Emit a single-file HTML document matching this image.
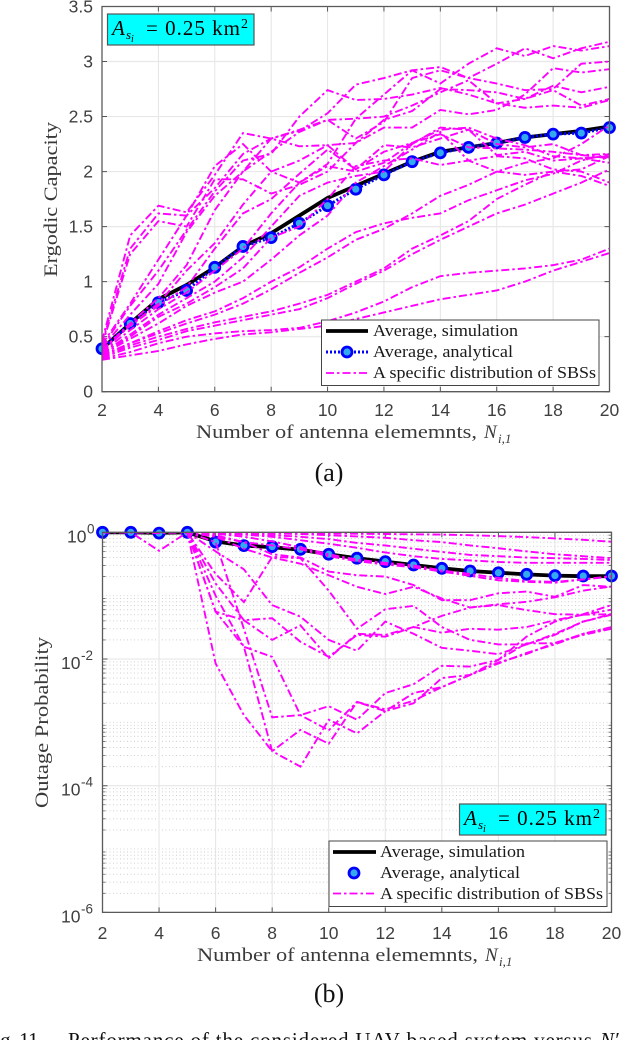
<!DOCTYPE html>
<html><head><meta charset="utf-8"><title>Ergodic capacity and outage probability</title>
<style>
html,body{margin:0;padding:0;background:#fff;width:626px;height:1040px;overflow:hidden}
svg{display:block}
text{font-family:"Liberation Serif",serif;fill:#3a3a3a}
.tick{font-family:"Liberation Sans",sans-serif;font-size:17.5px;fill:#404040}
.leg{font-size:17px;fill:#1a1a1a}
.math{fill:#000}
</style></head>
<body>
<svg id="fig" xmlns="http://www.w3.org/2000/svg" width="626" height="1040" viewBox="0 0 626 1040">
  <defs>
    <clipPath id="clipA"><rect x="102" y="6.5" width="507.5" height="385.2"/></clipPath>
    <clipPath id="clipB"><rect x="102.5" y="532.3" width="509" height="380.1"/></clipPath>
  </defs>
  <g id="chartA"></g>
  <g id="chartB"></g>

  <!-- chart a annotation -->
  <g>
    <rect x="107.5" y="14" width="146.5" height="31" fill="#00ffff" stroke="#555" stroke-width="1.2"/>
    <text class="math" x="112" y="35" font-size="21" font-style="italic">A</text>
    <text class="math" x="126" y="39" font-size="13" font-style="italic">s</text>
    <text class="math" x="131" y="42" font-size="10" font-style="italic">i</text>
    <text class="math" x="146" y="35" font-size="21" textLength="94" lengthAdjust="spacing">= 0.25 km</text>
    <text class="math" x="241" y="28" font-size="14">2</text>
  </g>
  <!-- chart a legend -->
  <g>
    <rect x="321.5" y="320" width="277.5" height="65.5" fill="#fff" stroke="#444" stroke-width="1"/>
    <line x1="326" x2="368" y1="331" y2="331" stroke="#000" stroke-width="3.8"/>
    <line x1="326" x2="368" y1="352" y2="352" stroke="#0000ff" stroke-width="3" stroke-dasharray="2 2"/>
    <circle cx="347" cy="352" r="5" fill="#33aaee" stroke="#0000ff" stroke-width="2.8"/>
    <line x1="326" x2="368" y1="373" y2="373" stroke="#ff00ff" stroke-width="1.8" stroke-dasharray="8 3 2.5 3"/>
    <text class="leg" x="373" y="336" textLength="145" lengthAdjust="spacingAndGlyphs">Average, simulation</text>
    <text class="leg" x="373" y="357" textLength="140" lengthAdjust="spacingAndGlyphs">Average, analytical</text>
    <text class="leg" x="373" y="378" textLength="223" lengthAdjust="spacingAndGlyphs">A specific distribution of SBSs</text>
  </g>
  <g>
    <text x="196" y="438" font-size="19" textLength="281" lengthAdjust="spacingAndGlyphs">Number of antenna elememnts,</text>
    <text x="484" y="438" font-size="19" font-style="italic">N</text>
    <text x="498" y="443" font-size="13" font-style="italic">i,1</text>
  </g>
  <text transform="translate(57,277) rotate(-90)" font-size="19" textLength="155" lengthAdjust="spacingAndGlyphs">Ergodic Capacity</text>
  <text x="329" y="481" font-size="26" text-anchor="middle" style="fill:#111">(a)</text>

  <!-- chart b annotation -->
  <g>
    <rect x="459.5" y="804" width="146.5" height="31" fill="#00ffff" stroke="#555" stroke-width="1.2"/>
    <text class="math" x="464" y="825" font-size="21" font-style="italic">A</text>
    <text class="math" x="478" y="829" font-size="13" font-style="italic">s</text>
    <text class="math" x="483" y="832" font-size="10" font-style="italic">i</text>
    <text class="math" x="498" y="825" font-size="21" textLength="94" lengthAdjust="spacing">= 0.25 km</text>
    <text class="math" x="593" y="818" font-size="14">2</text>
  </g>
  <!-- chart b legend -->
  <g>
    <rect x="329" y="841" width="278" height="65.5" fill="#fff" stroke="#444" stroke-width="1"/>
    <line x1="333" x2="376" y1="852" y2="852" stroke="#000" stroke-width="3.8"/>
    <circle cx="354" cy="873" r="5" fill="#33aaee" stroke="#0000ff" stroke-width="2.8"/>
    <line x1="333" x2="376" y1="893.5" y2="893.5" stroke="#ff00ff" stroke-width="1.8" stroke-dasharray="8 3 2.5 3"/>
    <text class="leg" x="380" y="857" textLength="145" lengthAdjust="spacingAndGlyphs">Average, simulation</text>
    <text class="leg" x="380" y="878" textLength="140" lengthAdjust="spacingAndGlyphs">Average, analytical</text>
    <text class="leg" x="380" y="899" textLength="223" lengthAdjust="spacingAndGlyphs">A specific distribution of SBSs</text>
  </g>
  <g>
    <text x="197" y="961" font-size="19" textLength="281" lengthAdjust="spacingAndGlyphs">Number of antenna elememnts,</text>
    <text x="485" y="961" font-size="19" font-style="italic">N</text>
    <text x="499" y="966" font-size="13" font-style="italic">i,1</text>
  </g>
  <text transform="translate(48,808) rotate(-90)" font-size="19" textLength="171" lengthAdjust="spacingAndGlyphs">Outage Probability</text>
  <text x="329" y="1002" font-size="26" text-anchor="middle" style="fill:#111">(b)</text>

  <!-- figure caption, cut by the image edge -->
  <g>
    <text x="-16" y="1047" font-size="21" style="fill:#111" textLength="59" lengthAdjust="spacing">Fig. 11.</text>
    <text x="68" y="1047" font-size="21" style="fill:#111" textLength="524" lengthAdjust="spacing">Performance of the considered UAV-based system versus</text>
    <text x="600" y="1047" font-size="21" font-style="italic" style="fill:#111">N′</text>
  </g>
</svg>
<script>
// ---- shared category axis ----
const antennaCounts = [2,3,4,5,6,7,8,9,10,11,12,13,14,15,16,17,18,19,20];
const xTickValues = [2,4,6,8,10,12,14,16,18,20];

// ---- chart (a): ergodic capacity ----
const capTickValues = [0,0.5,1,1.5,2,2.5,3,3.5];
const capTickLabels = ['0','0.5','1','1.5','2','2.5','3','3.5'];
const capSimulation = [.39,.62,.84,.97,1.13,1.32,1.44,1.60,1.76,1.87,1.98,2.09,2.18,2.22,2.26,2.31,2.34,2.37,2.41];
const capAnalytical = [.39,.62,.81,.92,1.13,1.32,1.40,1.53,1.69,1.84,1.97,2.09,2.17,2.22,2.26,2.31,2.34,2.35,2.40];
const capSpecific = [
  [.46,1.42,1.69,1.63,1.97,2.35,2.30,2.23,2.24,2.02,2.18,2.26,2.38,2.40,2.30,2.24,2.14,2.12,2.14],
  [.44,1.30,1.62,1.60,2.05,2.25,2.00,1.90,2.07,2.48,2.50,2.60,2.72,2.83,2.62,2.66,2.74,2.60,2.66],
  [.42,1.25,1.55,1.50,1.93,1.93,1.80,1.88,2.00,2.26,2.47,2.55,2.75,2.74,2.72,2.66,2.78,2.72,2.77],
  [.43,.80,1.20,1.60,1.85,2.16,2.30,2.38,2.47,2.30,2.45,2.85,2.92,2.85,2.98,3.12,3.03,3.12,3.18],
  [.41,.78,1.10,1.47,1.82,2.10,2.16,2.50,2.74,2.65,2.66,2.70,2.76,2.70,2.62,2.58,2.60,2.58,2.65],
  [.40,.70,.98,1.45,1.78,2.00,2.30,2.37,2.53,2.79,2.85,2.92,2.95,2.85,2.80,2.74,2.75,2.98,3.00],
  [.38,.62,.85,1.15,1.65,2.00,2.18,2.36,2.47,2.48,2.70,2.92,2.80,2.98,3.12,3.05,3.14,3.10,3.14],
  [.38,.60,.80,1.10,1.35,1.70,2.00,2.10,2.24,2.26,2.40,2.40,2.56,2.52,2.56,2.70,2.94,2.90,2.93],
  [.37,.60,.78,.95,1.30,1.62,1.75,1.98,2.20,2.02,2.24,2.22,2.30,2.38,2.25,2.22,2.25,2.15,2.16],
  [.36,.56,.75,.90,1.10,1.30,1.62,1.90,2.05,2.00,2.08,2.26,2.34,2.22,2.21,2.20,2.18,2.15,2.12],
  [.35,.52,.70,.85,1.00,1.22,1.50,1.78,1.90,1.96,2.00,2.25,2.40,2.38,2.15,2.18,2.10,2.12,2.08],
  [.35,.50,.68,.80,.95,1.12,1.40,1.50,1.75,2.05,2.10,2.12,2.06,2.10,2.14,2.12,2.02,2.00,1.90],
  [.34,.48,.62,.78,.90,1.00,1.20,1.42,1.60,1.90,2.05,2.20,2.36,2.10,2.00,1.97,2.00,1.96,1.87],
  [.33,.44,.55,.65,.73,.85,1.00,1.13,1.30,1.45,1.53,1.58,1.62,1.74,1.83,1.92,1.98,2.10,2.16],
  [.33,.44,.53,.62,.70,.80,.93,1.08,1.22,1.38,1.48,1.62,1.78,1.88,2.00,2.08,2.12,2.25,2.42],
  [.32,.42,.50,.57,.63,.68,.73,.80,.88,1.00,1.12,1.30,1.42,1.55,1.75,1.88,2.00,2.02,2.14],
  [.31,.40,.47,.55,.60,.65,.70,.75,.85,.98,1.10,1.25,1.38,1.50,1.62,1.70,1.80,1.90,2.02],
  [.30,.36,.44,.50,.53,.55,.56,.58,.64,.72,.82,.95,1.05,1.08,1.10,1.12,1.15,1.20,1.30],
  [.29,.33,.37,.43,.48,.52,.54,.57,.60,.66,.72,.78,.84,.88,.92,1.00,1.10,1.18,1.26]
];

// ---- chart (b): outage probability ----
const outDecades = [0,-1,-2,-3,-4,-5,-6];
const outLabelExponents = [0,-2,-4,-6];
const outMinorMultipliers = [2,3,4,5,6,7,8,9];
const outSimulation = [1,1,.98,1,.72,.62,.58,.53,.45,.39,.345,.305,.27,.245,.23,.217,.207,.203,.203];
const outAnalytical = [1,1,.97,1,.70,.616,.594,.539,.45,.39,.344,.305,.27,.245,.23,.217,.207,.204,.204];
const outSpecific = [
  [1,1,1,1,1,.99,.98,.97,.96,.95,.94,.93,.92,.90,.87,.84,.80,.76,.71],
  [1,1,1,1,.99,.98,.96,.94,.90,.86,.82,.75,.70,.62,.56,.50,.45,.42,.39],
  [1,1,1,1,.98,.95,.90,.85,.78,.68,.62,.55,.49,.44,.42,.40,.39,.38,.365],
  [1,1,1,1,.97,.92,.85,.75,.66,.57,.48,.42,.38,.36,.34,.33,.33,.33,.33],
  [1,1,1,1,.95,.85,.72,.58,.45,.37,.33,.30,.25,.22,.19,.17,.165,.18,.204],
  [1,1,.97,1,.85,.70,.62,.54,.42,.35,.31,.28,.24,.205,.175,.165,.16,.18,.20],
  [1,1,1,1,.90,.70,.45,.40,.24,.21,.20,.147,.085,.085,.109,.116,.096,.147,.138],
  [1,1,1,1,.85,.55,.40,.32,.21,.138,.106,.138,.09,.065,.071,.059,.051,.05,.051],
  [1,1,.51,1,.22,.079,.41,.39,.12,.03,.061,.069,.032,.02,.017,.017,.025,.039,.05],
  [1,1,1,1,.50,.26,.071,.0465,.02,.0135,.039,.025,.015,.0135,.0119,.017,.024,.039,.051],
  [1,1,1,1,.156,.041,.044,.0187,.0108,.024,.0225,.032,.026,.03,.029,.032,.041,.05,.06],
  [1,1,1,1,.056,.041,.02,.034,.0103,.025,.024,.032,.048,.065,.073,.08,.094,.12,.14],
  [1,1,1,1,.70,.03,.0012,.0013,.0018,.0011,.0029,.004,.0078,.0076,.0097,.0226,.039,.051,.071],
  [1,1,1,1,.0085,.0013,.00035,.00076,.00046,.0021,.0015,.002,.005,.0056,.0097,.0177,.0177,.025,.031],
  [1,1,1,1,.10,.0156,.00035,.0002,.0011,.00067,.0015,.0029,.0036,.0056,.0088,.012,.018,.024,.03],
  [1,1,1,1,.056,.0156,.0108,.0013,.00075,.0021,.0016,.0022,.0036,.0056,.0085,.0125,.017,.025,.032]
];

// ---- axis functions ----
const NS = 'http://www.w3.org/2000/svg';
function xA(v){ return 102 + (v - 2) * 507.5 / 18; }
function yA(v){ return 391.7 - v * 110.06; }
function xB(v){ return 102.5 + (v - 2) * 509 / 18; }
function yB(p){ return 532.3 - Math.log10(p) * 63.35; }

function mk(tag, parent, attrs, txt){
  const el = document.createElementNS(NS, tag);
  for (const k in attrs) el.setAttribute(k, attrs[k]);
  if (txt !== undefined) el.textContent = txt;
  parent.appendChild(el);
  return el;
}
function pathFrom(xs, ys, fx, fy){
  return xs.map(function(x, i){ return (i ? 'L' : 'M') + fx(x).toFixed(2) + ' ' + fy(ys[i]).toFixed(2); }).join('');
}

const chartA = document.getElementById('chartA');
const chartB = document.getElementById('chartB');

// ---- draw chart (a) ----
xTickValues.forEach(function(v){
  const g = mk('line', chartA, {x1:xA(v), x2:xA(v), y1:6.5, y2:391.7, stroke:'#e4e4e4', 'stroke-width':1});
  
  
  const t = mk('text', chartA, {x:xA(v), y:416, 'text-anchor':'middle', class:'tick'}, String(v));
  
  
  const m = mk('path', chartA, {d:'M'+xA(v)+' 391.7v-5M'+xA(v)+' 6.5v5', stroke:'#555', 'stroke-width':1, fill:'none'});
  
  
});
capTickValues.forEach(function(v, i){
  const g = mk('line', chartA, {x1:102, x2:609.5, y1:yA(v), y2:yA(v), stroke:'#e8e8e8', 'stroke-width':1.2});
  
  
  const t = mk('text', chartA, {x:93, y:yA(v)+6, 'text-anchor':'end', class:'tick'}, capTickLabels[i]);
  
  
  const m = mk('path', chartA, {d:'M102 '+yA(v)+'h5M609.5 '+yA(v)+'h-5', stroke:'#555', 'stroke-width':1, fill:'none'});
  
  
});
const plotA = mk('g', chartA, {'clip-path':'url(#clipA)'});


const simA = mk('path', plotA, {d:pathFrom(antennaCounts, capSimulation, xA, yA), fill:'none', stroke:'#000', 'stroke-width':3.8});


const anaA = mk('path', plotA, {d:pathFrom(antennaCounts, capAnalytical, xA, yA), fill:'none', stroke:'#0000ff', 'stroke-width':3, 'stroke-dasharray':'2 2'});


antennaCounts.forEach(function(x, i){
  const c = mk('circle', chartA, {cx:xA(x), cy:yA(capAnalytical[i]), r:5, fill:'#33aaee', stroke:'#0000ff', 'stroke-width':2.8});
  
  
});
capSpecific.forEach(function(s){
  const p = mk('path', chartA, {'clip-path':'url(#clipA)', d:pathFrom(antennaCounts, s, xA, yA), fill:'none', stroke:'#ff00ff', 'stroke-width':1.9, 'stroke-dasharray':'8 3 2.5 3'});
  
  
});
const frameA = mk('path', chartA, {d:'M102 391.7V6.5H609.5V391.7Z', fill:'none', stroke:'#5a5a5a', 'stroke-width':1.3});



// ---- draw chart (b) ----
outDecades.forEach(function(d){
  const g = mk('line', chartB, {x1:102.5, x2:611.5, y1:yB(Math.pow(10,d)), y2:yB(Math.pow(10,d)), stroke:(d % 2 === 0) ? '#e4e4e4' : '#d8d8d8', 'stroke-width':1, 'stroke-dasharray':(d % 2 === 0) ? 'none' : '1 2.5'});
  
  
  if (d > -6) outMinorMultipliers.forEach(function(k){
    const p = k * Math.pow(10, d - 1);
    const mg = mk('line', chartB, {x1:102.5, x2:611.5, y1:yB(p), y2:yB(p), stroke:'#cfcfcf', 'stroke-width':1, 'stroke-dasharray':'1 2.5'});
    
    
    const mt = mk('path', chartB, {d:'M102.5 '+yB(p)+'h3M611.5 '+yB(p)+'h-3', stroke:'#666', 'stroke-width':0.8, fill:'none'});
    
    
  });
});
xTickValues.forEach(function(v){
  const g = mk('line', chartB, {x1:xB(v), x2:xB(v), y1:532.3, y2:912.4, stroke:'#e4e4e4', 'stroke-width':1});
  
  
  const t = mk('text', chartB, {x:xB(v), y:939, 'text-anchor':'middle', class:'tick'}, String(v));
  
  
  const m = mk('path', chartB, {d:'M'+xB(v)+' 912.4v-5M'+xB(v)+' 532.3v5', stroke:'#555', 'stroke-width':1, fill:'none'});
  
  
});
outLabelExponents.forEach(function(e){
  const y = yB(Math.pow(10, e));
  const sup = String(e);
  const baseX = e === 0 ? 67 : 61;
  const t = mk('text', chartB, {x:baseX, y:y + 10, class:'tick'}, '10');
  
  
  const s = mk('text', chartB, {x:baseX + 20, y:y + 1, class:'tick', style:'font-size:13.5px'}, sup);
  
  
  const m = mk('path', chartB, {d:'M102.5 '+y+'h5M611.5 '+y+'h-5', stroke:'#555', 'stroke-width':1, fill:'none'});
  
  
});
const simB = mk('path', chartB, {'clip-path':'url(#clipB)', d:pathFrom(antennaCounts, outSimulation, xB, yB), fill:'none', stroke:'#000', 'stroke-width':3.8});


antennaCounts.forEach(function(x, i){
  const c = mk('circle', chartB, {cx:xB(x), cy:yB(outAnalytical[i]), r:5, fill:'#33aaee', stroke:'#0000ff', 'stroke-width':2.8});
  
  
});
outSpecific.forEach(function(s){
  const p = mk('path', chartB, {'clip-path':'url(#clipB)', d:pathFrom(antennaCounts, s, xB, yB), fill:'none', stroke:'#ff00ff', 'stroke-width':1.9, 'stroke-dasharray':'8 3 2.5 3'});
  
  
});
const frameB = mk('path', chartB, {d:'M102.5 912.4V532.3H611.5V912.4Z', fill:'none', stroke:'#5a5a5a', 'stroke-width':1.3});


</script>
</body></html>
